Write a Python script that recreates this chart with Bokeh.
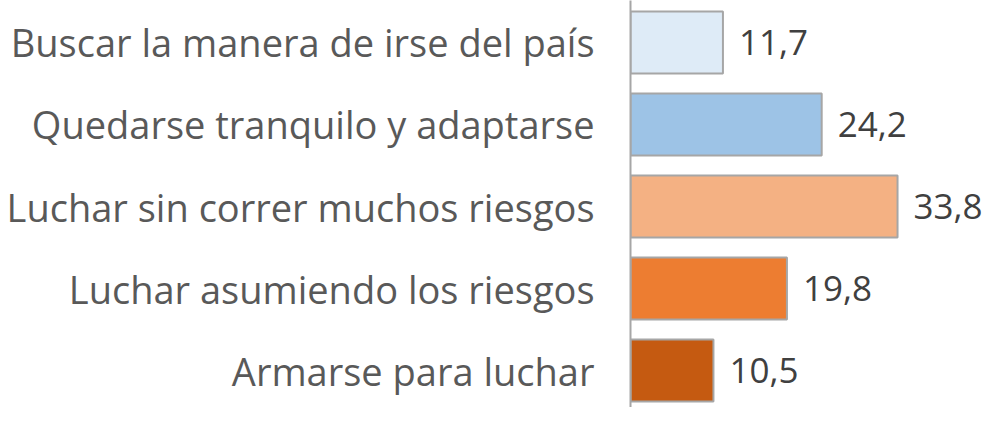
from bokeh.plotting import figure
from bokeh.models import Range1d, FixedTicker, ColumnDataSource, LabelSet
from bokeh.embed import file_html
from bokeh.resources import INLINE
from bokeh.core.properties import value

categories = [
    "Buscar la manera de irse del país",
    "Quedarse tranquilo y adaptarse",
    "Luchar sin correr muchos riesgos",
    "Luchar asumiendo los riesgos",
    "Armarse para luchar",
]
values = [11.7, 24.2, 33.8, 19.8, 10.5]
value_labels = ["11,7", "24,2", "33,8", "19,8", "10,5"]
colors = ["#DEEBF7", "#9DC3E6", "#F4B183", "#ED7D31", "#C55A11"]

idx = list(range(len(categories)))
src = ColumnDataSource(dict(y=idx, v=values, c=colors, lab=value_labels, cat=categories))

p = figure(width=986, height=407, output_backend="svg", toolbar_location=None,
           x_range=Range1d(0, 45.06), y_range=Range1d(4.451, -0.512),
           min_border_left=630, min_border_right=0, min_border_top=0, min_border_bottom=0)

p.hbar(y="y", right="v", left=0, height=0.756, fill_color="c", line_color="#A6A6A6",
       line_width=2, source=src)

labels = LabelSet(x="v", y="y", text="lab", source=src, x_offset=16, y_offset=0,
                  text_baseline="middle", text_align="left", text_font=value("Open Sans"),
                  text_font_size="35px", text_color="#404040")
p.add_layout(labels)

p.xaxis.visible = False
p.xgrid.visible = False
p.ygrid.visible = False
p.outline_line_color = None

ya = p.yaxis[0]
ya.ticker = FixedTicker(ticks=idx)
ya.major_label_overrides = {i: c for i, c in zip(idx, categories)}
ya.major_tick_line_color = None
ya.minor_tick_line_color = None
ya.major_tick_out = 0
ya.major_tick_in = 0
ya.axis_line_color = "#A6A6A6"
ya.axis_line_width = 2
ya.major_label_standoff = 36
ya.major_label_text_font = "Open Sans"
ya.major_label_text_font_size = "38px"
ya.major_label_text_color = "#595959"

open("out.html", "w").write(file_html(p, INLINE))
